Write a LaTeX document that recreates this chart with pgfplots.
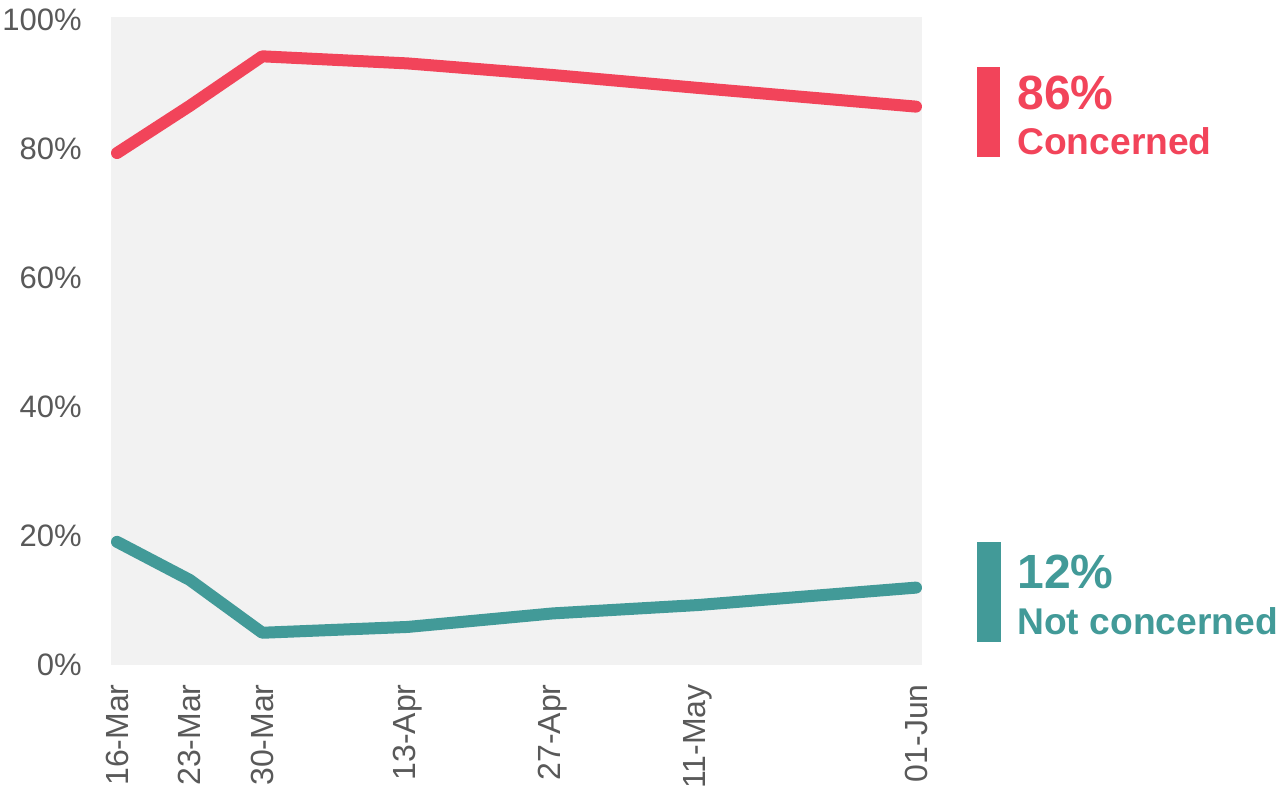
\documentclass[border=0pt]{standalone}
\usepackage{pgfplots}
\pgfplotsset{compat=1.18}
\usepackage{fontspec}
\setmainfont{Liberation Sans}
\definecolor{cred}{HTML}{F2445A}
\definecolor{cteal}{HTML}{429A98}
\definecolor{bggray}{HTML}{F2F2F2}
\definecolor{ticktext}{HTML}{595959}
\begin{document}
\begin{tikzpicture}
% 1 px of the reference = 0.5pt
\path[use as bounding box] (-55.5pt,-60.5pt) rectangle (582.5pt,332.5pt);
\begin{axis}[
  at={(0,0)}, anchor=south west,
  scale only axis,
  width=405.5pt, height=324pt,
  xmin=-0.58, xmax=77.58,
  ymin=0, ymax=100.5,
  axis line style={draw=none},
  major tick length=0pt,
  axis background/.style={fill=bggray},
  clip=false,
  xtick={0,7,14,28,42,56,77},
  xticklabels={16-Mar,23-Mar,30-Mar,13-Apr,27-Apr,11-May,01-Jun},
  xticklabel style={rotate=90, anchor=east, inner sep=0pt, font=\fontsize{16}{19}\selectfont, text=ticktext},
  xticklabel shift=9.5pt,
  ytick={0,20,40,60,80,100},
  yticklabels={0\%,20\%,40\%,60\%,80\%,100\%},
  yticklabel style={anchor=east, inner sep=0pt, font=\fontsize{15.5}{18}\selectfont, text=ticktext},
  yticklabel shift=14.5pt,
]
% Concerned
\addplot [cred, line width=6pt, line cap=round, line join=round] coordinates {
  (0,79.4) (7,86.7) (14,94.4) (28,93.3) (42,91.5) (56,89.5) (77,86.6)
};
% Not concerned
\addplot [cteal, line width=6pt, line cap=round, line join=round] coordinates {
  (0,19.1) (7,13.2) (14,5.0) (28,5.9) (42,8.0) (56,9.3) (77,12.0)
};
\end{axis}
% labels at the right
\fill[cred] (433pt,253.75pt) rectangle (444.5pt,298.75pt);
\fill[cteal] (433pt,11.25pt) rectangle (445pt,61.25pt);
\node[anchor=base west, inner sep=0pt, text=cred, font=\fontsize{24}{28}\selectfont\bfseries] at (453pt,277.75pt) {86\%};
\node[anchor=base west, inner sep=0pt, text=cred, font=\fontsize{18.6}{22}\selectfont\bfseries] at (453pt,255.25pt) {Concerned};
\node[anchor=base west, inner sep=0pt, text=cteal, font=\fontsize{24}{28}\selectfont\bfseries] at (453pt,38.25pt) {12\%};
\node[anchor=base west, inner sep=0pt, text=cteal, font=\fontsize{18.6}{22}\selectfont\bfseries] at (453pt,15.25pt) {Not concerned};
\end{tikzpicture}
\end{document}
